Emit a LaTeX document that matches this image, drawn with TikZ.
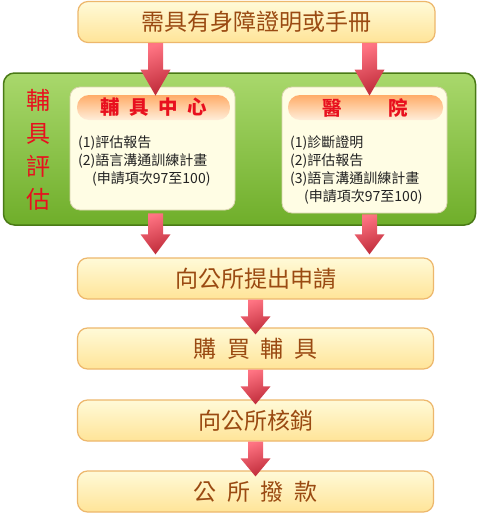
\documentclass[tikz,border=0pt]{standalone}
\usepackage{fontspec}
\setmainfont{Noto Sans CJK TC}
\usetikzlibrary{calc}
\definecolor{boxtop}{HTML}{FFFAD8}
\definecolor{boxbot}{HTML}{FFE498}
\definecolor{boxline}{HTML}{EDB76C}
\definecolor{boxtext}{HTML}{9A4A12}
\definecolor{greentop}{HTML}{A9D86C}
\definecolor{greenbot}{HTML}{6FAE2A}
\definecolor{greenline}{HTML}{4A7A16}
\definecolor{innerfill}{HTML}{FFFDE4}
\definecolor{innerline}{HTML}{D9D3AE}
\definecolor{headtop}{HTML}{FFAC68}
\definecolor{headmid}{HTML}{FFD0A2}
\definecolor{headbot}{HTML}{FFEEDA}
\definecolor{redtext}{HTML}{E8101E}
\definecolor{arrowlight}{HTML}{FF7483}
\definecolor{arrowdark}{HTML}{C02C3A}
\definecolor{listtext}{HTML}{222222}
\newcommand\fatarrow[3]{%
  \path[top color=arrowlight, bottom color=arrowdark, shading angle=20]
    let \p1=(#1), \p2=(#2) in
    (\x1-7.5pt,\y1) -- (\x1+7.5pt,\y1) -- (\x1+7.5pt,\y2+#3) --
    (\x1+15pt,\y2+#3) -- (\x1,\y2) -- (\x1-15pt,\y2+#3) --
    (\x1-7.5pt,\y2+#3) -- cycle;}
\begin{document}
\begin{tikzpicture}[x=1pt,y=-1pt,
  stepbox/.style={rectangle, rounded corners=10pt, minimum width=356pt,
    minimum height=41pt, inner sep=0pt, top color=boxtop, bottom color=boxbot,
    draw=boxline, line width=1.2pt, text=boxtext,
    font=\fontsize{23}{23}\selectfont},
  greenbox/.style={rectangle, rounded corners=11pt, minimum width=472pt,
    minimum height=152pt, inner sep=0pt, top color=greentop,
    bottom color=greenbot, draw=greenline, line width=1.5pt},
  innerbox/.style={rectangle, rounded corners=10pt, minimum width=165pt,
    inner sep=0pt, fill=innerfill, draw=innerline, line width=0.8pt},
  headpill/.style={rectangle, rounded corners=12pt, minimum height=25pt,
    inner sep=0pt, top color=headtop, middle color=headmid,
    bottom color=headbot, text=redtext,
    font=\fontsize{19.5}{19.5}\selectfont\bfseries},
  listtxt/.style={anchor=north west, inner sep=0pt, align=left,
    text=listtext, font=\fontsize{14}{18}\selectfont},
  sidetitle/.style={inner sep=0pt, align=center, text=redtext,
    font=\fontsize{24}{33}\selectfont}
]
\useasboundingbox (0,0) rectangle (480,514);
\fill[white] (0,0) rectangle (480,514);

\node[stepbox, minimum width=357pt] (need) at (256.5,22) {需具有身障證明或手冊};

\node[greenbox] (eval) at (239.5,149) {};
\node[sidetitle] (evt) at (38,149.5) {輔\\具\\評\\估};

\node[innerbox, minimum height=123pt] (center) at (152.5,148.5) {};
\node[headpill, minimum width=153pt] (centerhead) at (153.5,107.5)
  {輔\hspace{0.49em}具\hspace{0.49em}中\hspace{0.49em}心};
\node[listtxt] (centerlist) at (78,135)
  {(1)評估報告\\(2)語言溝通訓練計畫\\\hspace*{1em}(申請項次97至100)};

\node[innerbox, minimum height=126pt] (hosp) at (364.5,150) {};
\node[headpill, minimum width=155pt] (hosphead) at (365.5,107.5)
  {醫\hspace{2.37em}院};
\node[listtxt] (hosplist) at (290,135)
  {(1)診斷證明\\(2)評估報告\\(3)語言溝通訓練計畫\\\hspace*{1em}(申請項次97至100)};

\node[stepbox] (apply) at (255.5,278.5) {向公所提出申請};
\node[stepbox] (buy) at (255.5,348.5)
  {購\hspace{0.47em}買\hspace{0.47em}輔\hspace{0.47em}具};
\node[stepbox] (verify) at (255.5,420.5) {向公所核銷};
\node[stepbox] (pay) at (255.5,491.5)
  {公\hspace{0.47em}所\hspace{0.47em}撥\hspace{0.47em}款};

\coordinate (aL) at (155.5,0);
\coordinate (aR) at (369.5,0);

\fatarrow{need.south -| aL}{$(center.north -| aL)+(0,9)$}{26pt}
\fatarrow{need.south -| aR}{$(hosp.north -| aR)+(0,9)$}{26pt}
\fatarrow{$(center.south -| aL)+(0,3)$}{$(apply.north -| aL)+(0,-3)$}{20pt}
\fatarrow{$(hosp.south -| aR)+(0,1)$}{$(apply.north -| aR)+(0,-3)$}{20pt}
\fatarrow{apply.south}{$(buy.north)+(0,7)$}{18pt}
\fatarrow{buy.south}{$(verify.north)+(0,5)$}{18pt}
\fatarrow{verify.south}{$(pay.north)+(0,6)$}{18pt}
\end{tikzpicture}
\end{document}
